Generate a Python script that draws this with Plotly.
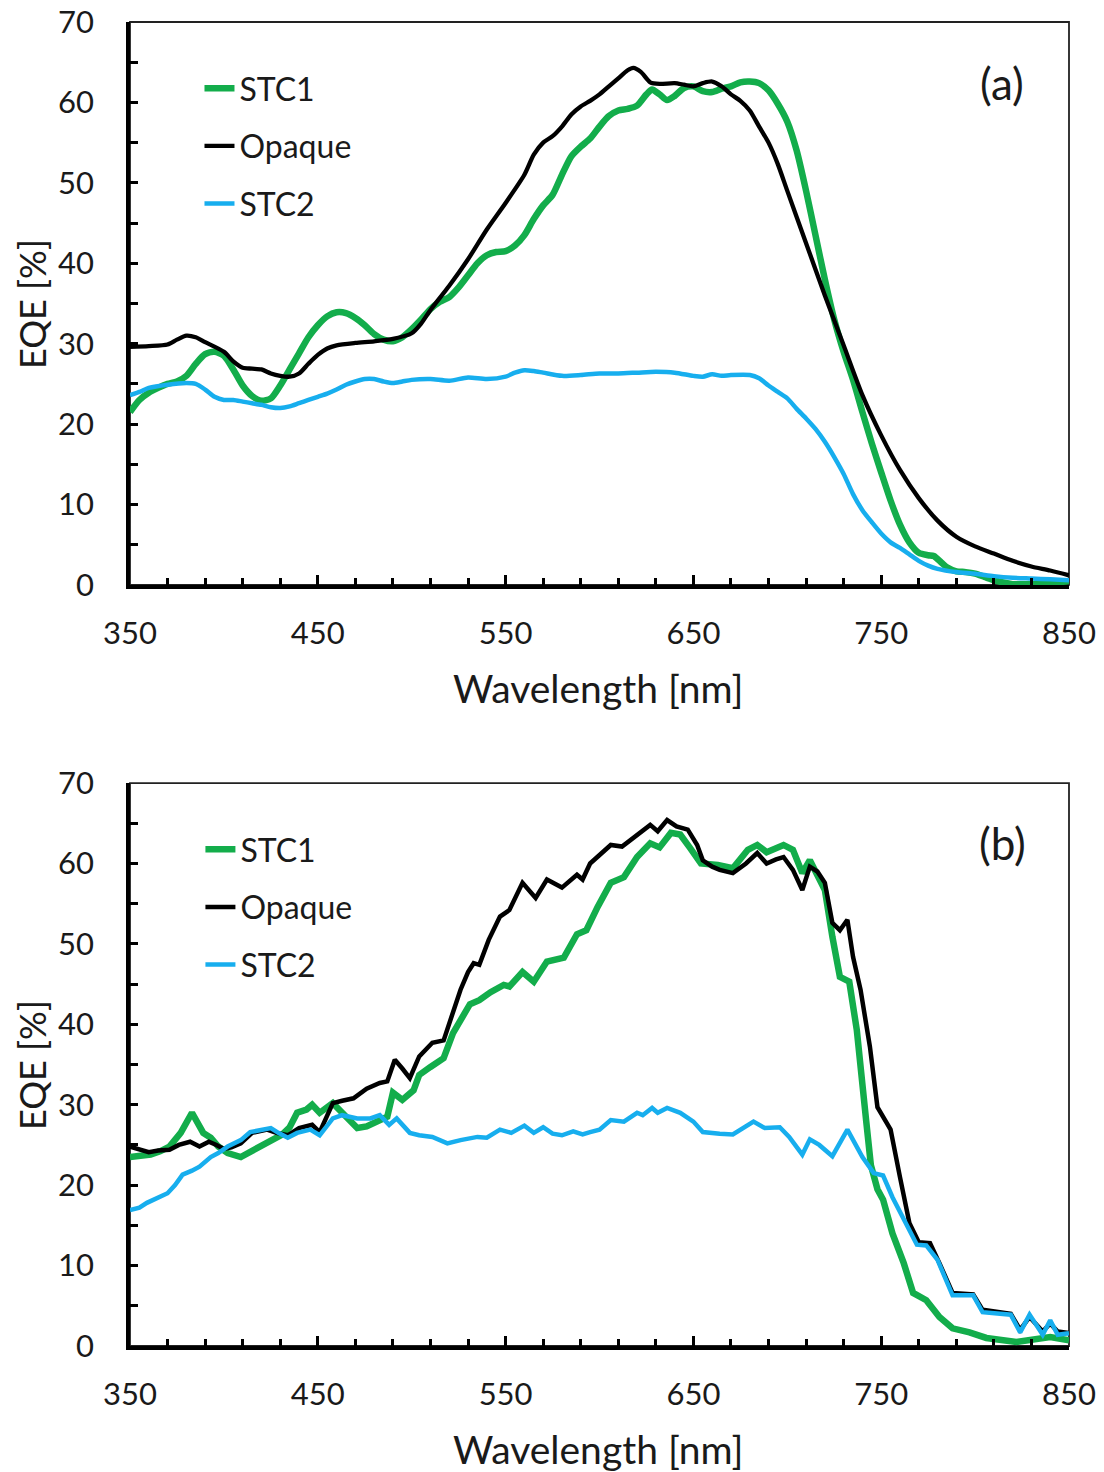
import plotly.graph_objects as go

# ---------------- Panel (a) data ----------------
wl_a_stc1 = [350, 355, 360, 365, 370, 375, 380, 385, 390, 395, 400, 405, 410, 415, 420, 425, 430, 435, 440, 445,
             450, 455, 460, 465, 470, 475, 480, 485, 490, 495, 500, 505, 510, 515, 520, 525, 530, 535, 540, 545,
             550, 555, 560, 565, 570, 575, 580, 585, 590, 595, 600, 605, 610, 615, 620, 625, 628, 632, 636, 640,
             645, 650, 655, 660, 665, 670, 675, 680, 685, 690, 695, 700, 705, 710, 715, 720, 725, 730, 735, 740,
             745, 750, 755, 760, 765, 770, 775, 778, 782, 785, 790, 795, 800, 805, 810, 815, 820, 830, 840, 850]
eqe_a_stc1 = [21.5, 23.0, 23.9, 24.5, 25.0, 25.3, 26.0, 27.5, 28.7, 29.0, 28.5, 26.8, 24.8, 23.5, 22.9, 23.2, 24.8, 26.8, 28.8, 30.8,
              32.3, 33.4, 33.9, 33.8, 33.2, 32.3, 31.2, 30.5, 30.3, 30.8, 31.8, 33.0, 34.3, 35.2, 35.8, 37.0, 38.5, 40.0, 41.0, 41.4,
              41.5, 42.2, 43.5, 45.5, 47.2, 48.5, 51.0, 53.3, 54.5, 55.5, 57.0, 58.3, 59.0, 59.2, 59.6, 61.0, 61.6, 61.0, 60.3, 60.8,
              61.8, 62.0, 61.4, 61.3, 61.7, 62.0, 62.5, 62.6, 62.4, 61.5, 59.8, 57.6, 54.0, 49.0, 43.5, 38.0, 33.0, 29.0, 25.5, 21.5,
              17.6, 14.0, 10.5, 7.5, 5.3, 4.0, 3.7, 3.6, 2.8, 2.2, 1.7, 1.6, 1.4, 1.0, 0.6, 0.3, 0.1, 0.1, 0.2, 0.5]

wl_a_opaque = [350, 360, 370, 375, 380, 385, 390, 400, 405, 410, 415, 420, 425, 430, 435, 440, 445, 450, 455, 460,
               470, 480, 490, 500, 505, 510, 520, 530, 540, 550, 560, 565, 570, 575, 580, 585, 590, 595, 600, 605,
               610, 615, 618, 622, 627, 632, 640, 645, 650, 655, 660, 665, 670, 675, 680, 685, 690, 695, 700, 710,
               720, 730, 740, 750, 760, 770, 780, 790, 800, 810, 820, 830, 840, 850]
eqe_a_opaque = [29.6, 29.7, 29.9, 30.5, 31.0, 30.8, 30.2, 29.0, 27.8, 27.0, 26.9, 26.8, 26.3, 26.0, 25.9, 26.3, 27.5, 28.6, 29.4, 29.8,
                30.1, 30.3, 30.6, 31.3, 32.5, 34.2, 37.2, 40.5, 44.2, 47.5, 51.0, 53.5, 55.0, 55.8, 57.0, 58.5, 59.5, 60.2, 61.0, 62.0,
                63.0, 64.0, 64.3, 63.8, 62.5, 62.3, 62.4, 62.2, 62.0, 62.4, 62.6, 62.0, 61.0, 60.2, 59.0, 57.0, 55.0, 52.3, 49.0, 42.5,
                36.0, 29.8, 23.6, 18.6, 14.3, 10.8, 8.0, 6.0, 4.8, 3.9, 3.0, 2.3, 1.8, 1.2]

wl_a_stc2 = [350, 355, 360, 370, 380, 385, 390, 395, 400, 405, 410, 415, 420, 425, 430, 435, 440, 445, 450, 455,
             460, 465, 470, 475, 480, 485, 490, 495, 500, 510, 520, 530, 540, 550, 555, 560, 565, 570, 580, 590,
             600, 610, 620, 630, 640, 650, 655, 660, 665, 670, 680, 685, 690, 695, 700, 705, 710, 715, 720, 725,
             730, 735, 740, 745, 750, 755, 760, 765, 770, 775, 780, 790, 800, 810, 820, 830, 840, 850]
eqe_a_stc2 = [23.6, 24.0, 24.5, 24.9, 25.1, 25.0, 24.3, 23.4, 23.0, 23.0, 22.8, 22.6, 22.4, 22.1, 22.0, 22.2, 22.6, 23.0, 23.4, 23.8,
              24.3, 24.9, 25.3, 25.6, 25.6, 25.3, 25.1, 25.3, 25.5, 25.6, 25.4, 25.8, 25.6, 25.9, 26.4, 26.7, 26.6, 26.4, 26.0, 26.1,
              26.3, 26.3, 26.4, 26.5, 26.4, 26.0, 25.9, 26.2, 26.0, 26.1, 26.1, 25.7, 24.8, 24.0, 23.2, 21.9, 20.7, 19.4, 17.8, 15.9,
              13.8, 11.3, 9.3, 7.8, 6.4, 5.3, 4.6, 3.8, 3.0, 2.4, 2.0, 1.6, 1.4, 1.1, 0.9, 0.8, 0.7, 0.6]

# ---------------- Panel (b) data ----------------
wl_b_stc1 = [350, 355, 361, 366, 371, 377, 383, 389, 393, 397, 402, 409, 416, 421, 426, 431, 435, 439, 444, 447,
             451, 458, 463, 467, 471, 476, 482, 487, 490, 495, 501, 504, 510, 517, 522, 526, 531, 536, 542, 549,
             552, 559, 565, 572, 581, 588, 593, 599, 606, 613, 620, 627, 632, 638, 643, 648, 654, 663, 671, 679,
             684, 689, 698, 703, 708, 712, 717, 720, 724, 728, 733, 737, 742, 744.5, 748, 751, 756, 762, 767, 774,
             781, 788, 797, 806, 822, 831, 840, 850]
eqe_b_stc1 = [23.5, 23.6, 23.8, 24.2, 24.8, 26.5, 29.0, 26.5, 25.9, 24.8, 24.0, 23.5, 24.4, 25.0, 25.6, 26.3, 27.2, 29.0, 29.4, 30.0,
              29.0, 30.2, 29.0, 28.0, 27.1, 27.3, 27.9, 28.5, 31.5, 30.6, 31.8, 33.7, 34.7, 35.8, 38.9, 40.5, 42.5, 43.0, 44.0, 44.9,
              44.7, 46.5, 45.3, 47.8, 48.3, 51.2, 51.7, 54.6, 57.6, 58.3, 60.8, 62.5, 62.0, 63.8, 63.6, 62.0, 60.0, 59.8, 59.4, 61.7,
              62.3, 61.4, 62.3, 61.7, 58.8, 60.4, 58.3, 56.7, 50.9, 45.9, 45.3, 39.3, 28.0, 22.5, 19.5, 18.2, 14.0, 10.3, 6.6, 5.7,
              3.6, 2.2, 1.7, 1.0, 0.5, 0.7, 1.1, 0.7]

wl_b_opaque = [350, 355, 360, 365, 371, 376, 382, 387, 392, 396, 400, 404, 409, 415, 423, 428, 434, 440, 447, 451,
               455, 458, 463, 469, 476, 483, 487, 491, 495, 499, 504, 511, 517, 520, 524, 526, 530, 533, 536, 541,
               547, 552, 559, 566, 572, 580, 588, 591, 595, 600, 606, 612, 620, 627, 631, 636, 641, 647, 652, 655,
               660, 664, 671, 678, 684, 689, 694, 698, 703, 708, 712, 716, 720, 724, 728, 732, 735, 739, 744, 748,
               753, 755, 760, 765, 770, 776, 781, 788, 799, 804, 819, 824, 829, 836, 840, 844, 850]
eqe_b_opaque = [24.8, 24.4, 24.1, 24.3, 24.4, 25.0, 25.4, 24.8, 25.4, 25.0, 24.5, 24.7, 25.2, 26.5, 26.9, 26.5, 26.2, 27.1, 27.5, 26.6,
                28.5, 30.2, 30.5, 30.8, 32.0, 32.7, 32.9, 35.6, 34.5, 33.3, 36.0, 37.7, 38.0, 40.0, 43.0, 44.3, 46.5, 47.6, 47.4, 50.5,
                53.4, 54.2, 57.6, 55.7, 58.0, 57.0, 58.6, 58.0, 60.0, 61.0, 62.3, 62.1, 63.6, 64.8, 64.0, 65.4, 64.6, 64.2, 62.3, 60.4,
                59.6, 59.2, 58.8, 60.0, 61.3, 60.0, 60.5, 60.8, 59.2, 56.7, 59.6, 59.0, 57.6, 52.6, 51.7, 53.0, 48.4, 44.3, 37.2, 29.7,
                27.7, 26.9, 21.0, 15.3, 12.9, 12.8, 10.3, 6.6, 6.4, 4.5, 4.0, 2.0, 3.6, 1.8, 2.8, 1.8, 1.6]

wl_b_stc2 = [350, 355, 359, 365, 370, 374, 378, 383, 387, 393, 397, 402, 409, 414, 421, 425, 429, 434, 439, 446,
             451, 458, 463, 471, 478, 483, 488, 492, 499, 504, 511, 519, 526, 535, 540, 547, 553, 560, 565, 570,
             575, 580, 586, 591, 595, 600, 606, 613, 620, 623, 628, 631, 636, 643, 650, 655, 664, 671, 682, 688,
             696, 701, 708, 712, 717, 724, 732, 740, 746, 751, 756, 762, 769, 774, 780, 788, 799, 804, 819, 824,
             829, 836, 840, 844, 850]
eqe_b_stc2 = [16.9, 17.2, 17.8, 18.4, 19.0, 20.0, 21.3, 21.8, 22.3, 23.5, 24.0, 24.8, 25.6, 26.6, 26.9, 27.1, 26.5, 25.9, 26.5, 26.9,
              26.2, 28.3, 28.7, 28.3, 28.3, 28.7, 27.5, 28.3, 26.5, 26.2, 26.0, 25.2, 25.6, 26.0, 25.9, 26.9, 26.5, 27.4, 26.5, 27.2,
              26.4, 26.2, 26.7, 26.3, 26.6, 26.9, 28.1, 27.9, 29.0, 28.7, 29.6, 29.0, 29.6, 29.0, 27.9, 26.6, 26.4, 26.3, 27.9, 27.1,
              27.2, 26.0, 23.8, 25.7, 25.0, 23.6, 26.9, 23.5, 21.5, 21.2, 18.5, 15.7, 12.6, 12.5, 10.7, 6.3, 6.3, 4.2, 3.9, 1.7,
              3.9, 1.4, 3.2, 1.4, 1.6]

x_ticks = [350, 450, 550, 650, 750, 850]
y_ticks = [0, 10, 20, 30, 40, 50, 60, 70]

GREEN = "#13AD4B"
BLACK = "#000000"
BLUE = "#17AEEE"
FONT = "Lato"
TXT = "#1a1a1a"

fig = go.Figure()

series = [
    ("a", "STC1", wl_a_stc1, eqe_a_stc1, GREEN, 6.5),
    ("a", "Opaque", wl_a_opaque, eqe_a_opaque, BLACK, 4.3),
    ("a", "STC2", wl_a_stc2, eqe_a_stc2, BLUE, 4.5),
    ("b", "STC1", wl_b_stc1, eqe_b_stc1, GREEN, 6.5),
    ("b", "Opaque", wl_b_opaque, eqe_b_opaque, BLACK, 4.5),
    ("b", "STC2", wl_b_stc2, eqe_b_stc2, BLUE, 4.5),
]
for panel, name, xs, ys, col, w in series:
    top = panel == "a"
    fig.add_trace(go.Scatter(
        x=xs, y=ys, name=name, mode="lines",
        line=dict(color=col, width=w, shape="spline" if top else "linear", smoothing=0.7),
        xaxis="x" if top else "x2", yaxis="y" if top else "y2",
        legend="legend" if top else "legend2",
        legendgroup=panel + name,
    ))

def xax(anchor):
    return dict(
        domain=[0, 1], anchor=anchor, range=[350, 850], tickvals=x_ticks, automargin=False,
        ticks="inside", ticklen=10, tickwidth=2.5, tickcolor="black",
        minor=dict(tick0=350, dtick=20, ticks="inside", ticklen=7, tickwidth=2.5, tickcolor="black"),
        showline=True, linewidth=3.5, linecolor="black", mirror=False,
        showgrid=False, zeroline=False,
        tickfont=dict(family=FONT, size=31, color=TXT), ticklabelstandoff=18,
    )

def yax(anchor, dom):
    return dict(
        domain=dom, anchor=anchor, range=[0, 70], tickvals=y_ticks, automargin=False,
        ticks="inside", ticklen=8, tickwidth=2.5, tickcolor="black",
        minor=dict(dtick=5, ticks="inside", ticklen=8, tickwidth=2.5, tickcolor="black"),
        showline=True, linewidth=3.5, linecolor="black", mirror=False,
        showgrid=False, zeroline=False,
        tickfont=dict(family=FONT, size=31, color=TXT), ticklabelstandoff=26,
    )

top_dom = [0.5748, 1.0]
bot_dom = [0.0, 0.4252]

legend_common = dict(
    font=dict(family=FONT, size=32, color=TXT), bgcolor="rgba(0,0,0,0)",
    xanchor="left", yanchor="top", tracegroupgap=13, itemwidth=30, traceorder="grouped",
)

def ann(text, px, py, size, angle=0):
    return dict(text=text, xref="paper", yref="paper",
                x=(px - 130) / 939, y=(1346 - py) / 1324,
                xanchor="center", yanchor="middle", textangle=angle,
                showarrow=False, font=dict(family=FONT, size=size, color=TXT))

fig.update_layout(
    width=1104, height=1472,
    margin=dict(l=130, r=35, t=22, b=126, autoexpand=False),
    paper_bgcolor="white", plot_bgcolor="white",
    xaxis=xax("y"), yaxis=yax("x", top_dom),
    xaxis2=xax("y2"), yaxis2=yax("x2", bot_dom),
    legend=dict(x=0.074, y=(1346 - 61) / 1324, **legend_common),
    legend2=dict(x=0.075, y=(1346 - 822) / 1324, **legend_common),
    shapes=[
        dict(type="rect", xref="x domain", yref="y domain", x0=0, x1=1, y0=0, y1=1,
             line=dict(color="#222", width=1.8), layer="below"),
        dict(type="rect", xref="x2 domain", yref="y2 domain", x0=0, x1=1, y0=0, y1=1,
             line=dict(color="#222", width=1.8), layer="below"),
    ],
    annotations=[
        ann("EQE [%]", 32, 304, 36, -90),
        ann("EQE [%]", 32, 1065, 36, -90),
        ann("Wavelength [nm]", 598, 688, 39),
        ann("Wavelength [nm]", 598, 1449, 39),
        ann("(a)", 1002, 83, 44),
        ann("(b)", 1002, 843, 44),
    ],
)

fig.write_html("out.html")
